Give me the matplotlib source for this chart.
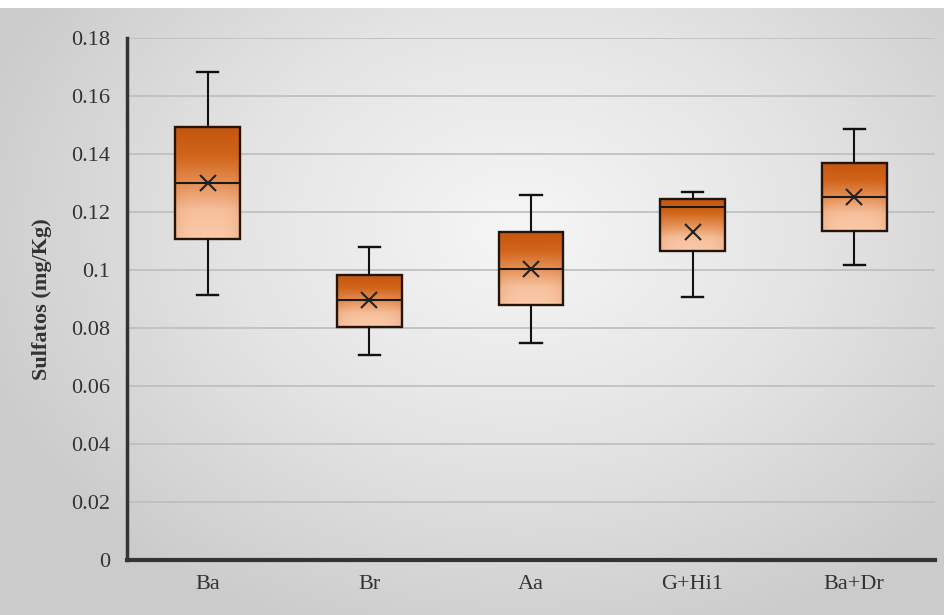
import numpy as np
import matplotlib.pyplot as plt
from matplotlib.colors import LinearSegmentedColormap

# Dados
categorias = ['Ba', 'Br', 'Aa', 'G+Hi1', 'Ba+Dr']
minimo = [0.0914, 0.0707, 0.0748, 0.0907, 0.1017]
q1 = [0.1107, 0.0803, 0.0879, 0.1066, 0.1134]
mediana = [0.1300, 0.0897, 0.1003, 0.1217, 0.1252]
q3 = [0.1493, 0.0983, 0.1131, 0.1245, 0.1369]
maximo = [0.1683, 0.1080, 0.1259, 0.1269, 0.1486]
media = [0.1300, 0.0897, 0.1003, 0.1131, 0.1252]

plt.rcParams['font.family'] = ['Liberation Serif', 'DejaVu Serif']

fig = plt.figure(figsize=(9.44, 6.15), dpi=100)

# Fundo com degradê radial
bg = fig.add_axes([0, 0, 1, 1], zorder=-10)
yy, xx = np.mgrid[0:615, 0:944]
r = np.sqrt(((xx - 520) / 580.0) ** 2 + ((yy - 230) / 440.0) ** 2)
r = np.clip(r, 0, 1)
cmap_bg = LinearSegmentedColormap.from_list('bg', ['#f6f6f6', '#e4e4e4', '#cbcbcb'])
img = cmap_bg(r)
img[:8, :, :3] = 1.0
bg.imshow(img, aspect='auto', interpolation='bilinear')
bg.axis('off')

ax = fig.add_axes([0.1345, 0.0894, 0.856, 0.849])
ax.set_facecolor('none')

stats = []
for i in range(len(categorias)):
    stats.append({'label': categorias[i], 'whislo': minimo[i], 'q1': q1[i], 'med': mediana[i],
                  'q3': q3[i], 'whishi': maximo[i], 'mean': media[i], 'fliers': []})

posicoes = np.arange(len(categorias))
bp = ax.bxp(stats, positions=posicoes, widths=0.40, showmeans=True, patch_artist=True,
            boxprops=dict(edgecolor='#24150c', linewidth=1.7, facecolor='none'),
            medianprops=dict(color='#1a1a1a', linewidth=1.5),
            whiskerprops=dict(color='#111111', linewidth=1.5),
            capprops=dict(color='#111111', linewidth=1.7),
            meanprops=dict(marker='x', markeredgecolor='#222222', markersize=12, markeredgewidth=1.5),
            capwidths=0.13)

# Degradê laranja dentro das caixas
cmap_box = LinearSegmentedColormap.from_list('caixa', ['#c4560f', '#d06419', '#e58f55', '#f6c09c', '#f9c9a8'])
for i, patch in enumerate(bp['boxes']):
    gy, gx = np.mgrid[0:1:100j, -1:1:60j]
    grad = cmap_box(gy)
    edge = np.clip(np.abs(gx) ** 4, 0, 1)[..., None] * 0.18
    grad[..., :3] = grad[..., :3] * (1 - edge) + np.array([0.80, 0.40, 0.12]) * edge
    im = ax.imshow(grad, extent=[posicoes[i] - 0.2, posicoes[i] + 0.2, q1[i], q3[i]],
                   aspect='auto', origin='upper', zorder=1.5, interpolation='bilinear')
    im.set_clip_path(patch)
    patch.set_zorder(2)

ax.set_xlim(-0.5, len(categorias) - 0.5)
ax.set_ylim(0, 0.18)
ax.set_yticks(np.arange(0, 0.181, 0.02))
ax.set_yticklabels(['0', '0.02', '0.04', '0.06', '0.08', '0.1', '0.12', '0.14', '0.16', '0.18'])
ax.set_xticks(posicoes)
ax.set_xticklabels(categorias)
ax.yaxis.grid(True, color='#bdbdbd', linewidth=1.2)
ax.set_axisbelow(True)
ax.tick_params(axis='both', length=0, labelsize=16, colors='#333333', pad=12)
ax.tick_params(axis='x', pad=11)

for lado in ['top', 'right']:
    ax.spines[lado].set_visible(False)
ax.spines['left'].set_color('#333333')
ax.spines['left'].set_linewidth(2.5)
ax.spines['bottom'].set_color('#333333')
ax.spines['bottom'].set_linewidth(3)

ax.set_ylabel('Sulfatos (mg/Kg)', fontsize=16, fontweight='bold', color='#333333', labelpad=14)

fig.savefig('out.png', dpi=100)
